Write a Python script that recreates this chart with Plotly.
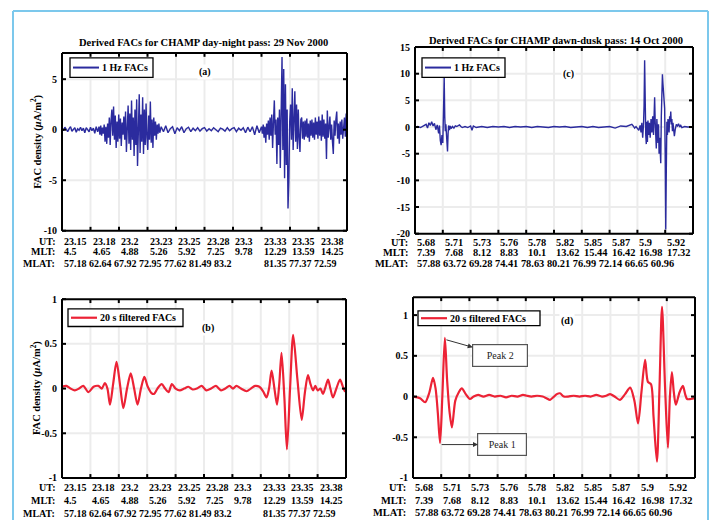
import plotly.graph_objects as go

W, H = 715, 526

# ---------------- tick-row labels (one per 100-s tick) ----------------
UT_A = ["23.15", "23.18", "23.2", "23.23", "23.25", "23.28", "23.3", "23.33", "23.35", "23.38"]
MLT_A = ["4.5", "4.65", "4.88", "5.26", "5.92", "7.25", "9.78", "12.29", "13.59", "14.25"]
MLAT_A = ["57.18", "62.64", "67.92", "72.95", "77.62", "81.49", "83.2", "81.35", "77.37", "72.59"]

UT_C = ["5.68", "5.71", "5.73", "5.76", "5.78", "5.82", "5.85", "5.87", "5.9", "5.92"]
MLT_C = ["7.39", "7.68", "8.12", "8.83", "10.1", "13.62", "15.44", "16.42", "16.98", "17.32"]
MLAT_C = ["57.88", "63.72", "69.28", "74.41", "78.63", "80.21", "76.99", "72.14", "66.65", "60.96"]

TICK_T = [0, 100, 200, 300, 400, 500, 600, 700, 800, 900, 1000]

# ---------------- 29 Nov 2000, 1 Hz FACs (time in s, FAC in uA/m^2) ----------------
T_A = [0, 5, 10, 15, 20, 25, 30, 35, 40, 45, 50, 55, 60, 65, 70, 75, 80, 85, 90, 95, 100, 105, 110, 115, 120, 125,
       130, 133, 136, 139, 142, 145, 148, 151, 154, 157, 160, 163, 166, 169, 172, 175, 178, 181, 184, 187, 190, 193,
       196, 199, 202, 205, 208, 211, 214, 217, 220, 223, 226, 229, 232, 235, 238, 241, 244, 247, 250, 253, 256, 259,
       262, 265, 268, 271, 274, 277, 280, 283, 286, 289, 292, 295, 298, 301, 304, 307, 310, 313, 316, 319, 322, 325,
       328, 331, 334, 337, 340, 343,
       348, 356, 364, 372, 380, 388, 396, 404, 412, 420, 428, 436, 444, 452, 460, 468, 476, 484, 492, 500, 508, 516,
       524, 532, 540, 548, 556, 564, 572, 580, 588, 596, 604, 612, 620, 628, 636, 644, 652, 660, 668, 676, 684, 692,
       700,
       703, 706, 709, 712, 715, 718, 721, 724, 727, 730, 733, 736, 739, 742, 745, 748, 751, 754, 757, 760, 763, 766,
       769, 772, 775, 778, 781, 784, 787, 790, 793, 796, 799, 802, 805, 808, 811, 814, 817, 820, 823, 826, 829, 832,
       835, 838, 841, 844, 847, 850, 853, 856, 859, 862, 865, 868, 871, 874, 877, 880, 883, 886, 889, 892, 895, 898,
       901, 904, 907, 910, 913, 916, 919, 922, 925, 928, 931, 934, 937, 940, 943, 946, 949, 952, 955, 958, 961, 964,
       967, 970, 973, 976, 979, 982, 985, 988, 991, 994, 997, 1000]
V_A = [0.15, -0.1, 0.25, 0.05, -0.2, 0.1, 0.3, -0.15, 0.05, 0.2, -0.25, 0.1, -0.05, 0.25, -0.1, 0.15, -0.3, 0.2, 0.0,
       -0.2, 0.25, -0.1, 0.15, -0.35, 0.3, -0.2,
       0.3, -0.5, 0.4, -0.6, 0.2, -0.4, 0.5, -1.2, 0.3, -1.4, 0.6, -0.8, 1.2, -1.5, 0.9, 2.0, -0.6, 2.3, -1.0, 1.4,
       -1.8, 0.8, -1.2, 1.5, -0.9, 1.1, -1.6, 0.7, -0.5, 1.3, -1.0, 1.8, -2.2, 0.9, 2.4, -1.4, 1.6, -2.0, 2.9, -1.0,
       1.2, -2.6, 2.0, -1.5, 3.0, -3.6, 1.0, 3.5, -2.3, 1.5, -1.2, 3.2, -2.4, 2.0, -1.5, 2.6, -0.8, -2.0, 1.4, -1.0,
       2.8, -1.3, 1.0, -1.8, 1.2, -0.6, 0.8, -1.0, 0.5, -0.4, 0.6, -0.3,
       0.3, -0.2, 0.4, -0.3, 0.1, 0.3, -0.4, 0.2, -0.1, 0.3, -0.3, 0.1, 0.25, -0.2, 0.15, -0.1, 0.2, -0.15, 0.1, 0.2,
       -0.15, 0.1, -0.1, 0.2, 0.0, -0.2, 0.15, 0.05, -0.15, 0.2, -0.1, 0.1, 0.2, -0.2, 0.15, -0.05, 0.2, -0.3, 0.25,
       -0.2, 0.3, -0.5, 0.4, -0.3, 0.3,
       -0.4, 0.5, -0.8, 0.3, -1.3, 0.6, -0.5, 0.9, -1.0, 1.2, -0.6, 1.5, -1.8, 0.8, 2.9, -0.5, 1.0, -3.4, 1.2, -1.5,
       2.0, -3.8, 3.0, 7.2, -2.0, 6.0, -4.8, 4.5, -3.5, 2.0, -7.8, -5.0, 0.8, 2.5, -1.0, 4.1, -2.0, 1.5, 3.8, -1.2,
       2.5, -1.9, 2.0, -0.8, -2.2, 1.0, 1.2, -0.9, 0.8, -1.0, 0.9, -0.7, 1.1, -0.8, 0.6, -1.2, 0.9, -0.6, 1.0, -0.8,
       0.7, -1.0, 1.2, -0.5, 0.8, -0.9, 1.3, -0.6, 0.9, -1.1, 1.5, -0.7, 1.0, -0.9, 0.6, -2.9, 1.9, -0.8, 0.7, 1.3,
       -1.0, 0.5, -1.2, -2.4, 0.9, -0.6, 1.0, 1.8, -0.9, 0.6, -1.4, 0.8, -0.5, 1.0, -0.9, 0.4, 1.2, -0.7, 1.6, -0.3]

# ---------------- 29 Nov 2000, 20 s filtered FACs ----------------
T_B = [0, 15, 30, 45, 60, 75, 93, 111, 128, 140, 151, 160, 169, 180, 192, 204, 216, 229, 242, 254, 266, 278, 290,
       302, 315, 324, 336, 351, 363, 375, 387, 400, 415, 430, 445, 460, 475, 492, 508, 525, 542, 560, 575, 590, 602,
       614, 630, 650, 665, 680, 695, 708, 720, 729, 738, 748, 757, 765, 773, 783, 792, 803, 814, 829, 844, 855, 866,
       875, 884, 892, 900, 910, 919, 928, 937, 945, 954, 966, 979, 988, 996, 1000]
V_B = [0.02, 0.03, 0.0, -0.02, 0.0, 0.03, -0.04, 0.02, 0.03, 0.0, 0.06, 0.0, -0.18, 0.05, 0.3, 0.05, -0.22, 0.0, 0.17,
       0.0, -0.18, 0.0, 0.13, 0.02, -0.05, -0.06, 0.0, 0.05, 0.0, -0.04, 0.05, 0.0, -0.02, 0.0, 0.02, -0.01, 0.0,
       0.03, -0.02, 0.0, 0.03, -0.02, 0.0, 0.03, 0.0, 0.03, 0.0, -0.03, 0.0, 0.03, 0.02, -0.03, -0.1, 0.0, 0.2, 0.0,
       -0.18, 0.05, 0.4, -0.1, -0.68, 0.0, 0.6, 0.1, -0.35, -0.05, 0.15, 0.05, -0.02, 0.03, -0.02, 0.0, -0.06, 0.02,
       0.1, 0.0, -0.1, 0.0, 0.1, 0.03, -0.03, -0.02]

# ---------------- 14 Oct 2000, 1 Hz FACs ----------------
T_C = [0, 10, 20, 30, 40, 45, 50, 55, 60, 65, 70, 75, 80, 85, 88, 91, 94, 97, 100, 103, 105, 107, 109, 111, 113, 115,
       117, 119, 121, 124, 127, 130, 135, 140, 145, 150, 155, 160, 165, 170, 180, 190, 200, 205, 210, 220, 240, 260,
       280, 300, 320, 340, 360, 380, 400, 420, 440, 460, 480, 500, 520, 540, 560, 580, 600, 620, 640, 660, 680, 700,
       720, 740, 760, 770, 780, 785, 790, 795, 800, 805, 810, 813, 816, 819, 822, 824, 826, 828, 830, 832, 834, 836,
       838, 840, 843, 846, 849, 852, 855, 858, 860, 862, 864, 866, 868, 870, 872, 874, 876, 878, 880, 882, 884, 886,
       888, 890, 892, 894, 896, 898, 900, 902, 904, 906, 908, 910, 912, 914, 916, 918, 920, 922, 924, 926, 928, 930,
       933, 936, 940, 944, 948, 952, 956, 960, 970, 980, 990, 1000]
V_C = [0.0, 0.1, -0.1, 0.2, 0.5, -0.2, 0.8, 0.3, 1.0, 0.2, 0.7, -0.5, 0.4, -1.2, 0.3, -2.5, -3.4, -1.5, -3.0, 4.0,
       9.3, 2.0, -0.8, 0.5, -2.0, -3.5, -4.6, -1.2, 0.3, -0.6, 0.2, -0.3, 0.1, -0.2, 0.2, 0.1, 0.3, 0.4, 0.1, -0.1,
       0.1, -0.1, 0.2, -0.6, 0.2, -0.1, 0.1, -0.1, 0.1, 0.0, 0.1, -0.1, 0.1, 0.0, 0.1, -0.1, 0.1, 0.0, -0.1, 0.1, 0.0,
       0.1, -0.1, 0.0, 0.1, -0.1, 0.1, -0.1, 0.0, 0.1, -0.2, 0.2, 0.1, 0.3, 0.5, 0.2, -0.2, 0.1, -0.4, -0.6, 0.3,
       -1.0, 0.8, -2.0, 0.5, 4.0, 12.5, 3.0, -1.5, -3.2, 1.0, -2.8, 1.2, -1.5, 0.8, -2.0, 1.5, -1.0, 2.0, -1.5, 3.0,
       5.6, 1.0, -2.5, -4.0, 1.5, -1.5, -3.0, 0.5, -5.0, -2.0, -4.5, -6.8, 2.0, 6.0, 9.9, 8.0, 6.5, 5.0, 3.5, -5.0,
       -19.2, -8.0, 1.0, -1.5, 1.5, 0.5, -1.0, 2.0, 1.0, 2.9, 0.5, 1.5, -0.8, 0.8, -1.2, -1.7, -0.5, 0.5, 0.2, 0.6,
       0.0, 0.3, -0.1, 0.1, 0.0, 0.0, 0.0]

# ---------------- 14 Oct 2000, 20 s filtered FACs ----------------
T_D = [0, 25, 43, 58, 71, 80, 88, 96, 104, 113, 121, 130, 138, 150, 162, 173, 187, 202, 215, 231, 250, 270, 290, 310,
       330, 350, 370, 390, 403, 420, 440, 460, 473, 486, 500, 510, 521, 535, 550, 570, 590, 610, 630, 650, 670, 685,
       699, 715, 734, 752, 770, 785, 798, 810, 823, 833, 844, 853, 865, 874, 883, 894, 904, 911, 918, 925, 932, 945,
       957, 965, 972, 985, 1000]
V_D = [0.0, -0.02, -0.07, 0.05, 0.23, 0.1, -0.2, -0.57, 0.0, 0.72, 0.2, -0.2, -0.38, -0.05, 0.05, 0.1, 0.03, -0.03,
       0.0, 0.02, 0.0, 0.02, 0.0, 0.01, -0.01, 0.01, 0.0, 0.02, 0.01, 0.0, 0.01, 0.0, -0.02, -0.04, 0.0, 0.03, 0.04,
       0.0, 0.0, 0.01, 0.0, 0.01, 0.0, 0.02, 0.0, 0.01, 0.03, 0.0, -0.04, 0.03, 0.11, -0.05, -0.33, 0.05, 0.45, 0.18,
       0.15, -0.25, -0.8, 0.1, 1.1, 0.1, -0.63, 0.0, 0.3, 0.05, -0.1, 0.05, 0.13, 0.03, -0.03, -0.03, -0.02]

BLUE = "#2b2b9e"
RED = "#ec2235"
SERIF = "Liberation Serif"
GRID = "#ececec"


def px(x):
    return x / W


def py(y):
    return 1 - y / H


def b(s):
    return f"<b>{s}</b>"


# panel boxes in pixels: (left, right, top, bottom)
BOX = {
    "a": (62, 347, 48, 230),
    "b": (62, 346, 300, 483),
    "c": (415, 693, 42, 233),
    "d": (413, 695, 298, 483),
}
AX = {"a": ("x", "y"), "b": ("x2", "y2"), "c": ("x3", "y3"), "d": ("x4", "y4")}
XR = [0, 1000]
YR = {"a": ([-10, 7.6], [-10, -5, 0, 5]),
      "b": ([-1, 1], [-1, -0.5, 0, 0.5, 1]),
      "c": ([-20, 15], [-20, -15, -10, -5, 0, 5, 10, 15]),
      "d": ([-1, 1.22], [-1, -0.5, 0, 0.5, 1])}

SERIES = {
    "a": (T_A, V_A, "1 Hz FACs", BLUE, 1.4, "linear"),
    "b": (T_B, V_B, "20 s filtered FACs", RED, 2.2, "spline"),
    "c": (T_C, V_C, "1 Hz FACs", BLUE, 1.4, "linear"),
    "d": (T_D, V_D, "20 s filtered FACs", RED, 2.2, "spline"),
}

fig = go.Figure()
for k, (tt, vv, name, col, lw, shp) in SERIES.items():
    xa, ya = AX[k]
    fig.add_trace(go.Scatter(x=tt, y=vv, mode="lines", name=name, showlegend=False,
                             line=dict(color=col, width=lw, shape=shp, smoothing=0.8),
                             xaxis=xa, yaxis=ya))

layout_axes = {}
shapes = []
for k, (l, r, t, bt) in BOX.items():
    xa, ya = AX[k]
    rng, vals = YR[k]
    layout_axes["xaxis" + xa[1:]] = dict(domain=[px(l), px(r)], range=XR, showticklabels=False, ticks="",
                                         showline=False, showgrid=False, zeroline=False, anchor=ya)
    layout_axes["yaxis" + ya[1:]] = dict(domain=[py(bt), py(t)], range=rng, tickmode="array", tickvals=vals,
                                         ticktext=[b(f"{v:g}") for v in vals], ticks="", showline=False,
                                         showgrid=False, zeroline=False, anchor=xa, ticklabelstandoff=4,
                                         tickfont=dict(family=SERIF, size=10, color="black"))

    # axis frame, inward ticks and light grid, placed with the same domain/range as the axes
    def xpix(tv, l=l, r=r):
        return l + (tv - XR[0]) / (XR[1] - XR[0]) * (r - l)

    def ypix(v, t=t, bt=bt, rng=rng):
        return bt - (v - rng[0]) / (rng[1] - rng[0]) * (bt - t)

    def seg(x0, x1, y0, y1, color, width, layer="above"):
        shapes.append(dict(type="line", xref="paper", yref="paper", x0=px(x0), x1=px(x1), y0=py(y0), y1=py(y1),
                           layer=layer, line=dict(color=color, width=width)))

    for tv in TICK_T:
        xx = xpix(tv)
        if XR[0] < tv < XR[1]:
            seg(xx, xx, bt, t, GRID, 2, "below")
        seg(xx, xx, bt, bt - 4, "black", 2)
        seg(xx, xx, t, t + 4, "black", 2)
    for v in vals:
        yy = ypix(v)
        if rng[0] < v < rng[1]:
            seg(l, r, yy, yy, GRID, 2, "below")
        seg(l, l + 4, yy, yy, "black", 2)
        seg(r - 4, r, yy, yy, "black", 2)
    for x0, x1, y0, y1 in ((l, r, t, t), (l, r, bt, bt), (l, l, t, bt), (r, r, t, bt)):
        seg(x0, x1, y0, y1, "black", 2)

fig.update_layout(width=W, height=H, margin=dict(l=0, r=0, t=0, b=0),
                  paper_bgcolor="white", plot_bgcolor="rgba(0,0,0,0)", showlegend=False, **layout_axes)

ann = []


def note(text, x, y, size=10, **kw):
    d = dict(text=text, x=x, y=y, xref="paper", yref="paper", showarrow=False, xanchor="center",
             yanchor="middle", font=dict(family=SERIF, size=size, color="black"))
    d.update(kw)
    ann.append(d)


# legend boxes: (left, right, top, bottom) in pixels
LEG = {"a": (70, 153, 53, 73), "b": (68, 183, 310, 328), "c": (422, 505, 53, 73), "d": (418, 540, 312, 327)}
for k, (l, r, t, bt) in LEG.items():
    name, col, lw = SERIES[k][2], SERIES[k][3], SERIES[k][4]
    ym = (t + bt) / 2
    shapes.append(dict(type="rect", xref="paper", yref="paper", x0=px(l), x1=px(r), y0=py(bt), y1=py(t),
                       fillcolor="white", line=dict(color="black", width=1.3)))
    shapes.append(dict(type="line", xref="paper", yref="paper", x0=px(l + 3), x1=px(l + 29), y0=py(ym), y1=py(ym),
                       line=dict(color=col, width=max(lw, 2))))
    note(b(name), px(l + 30), py(ym), xanchor="left")

# titles
note(b("Derived FACs for CHAMP day-night pass: 29 Nov 2000"), px(204), py(37), size=10.5)
note(b("Derived FACs for CHAMP dawn-dusk pass: 14 Oct 2000"), px(556), py(35), size=10.5)

# y-axis titles
for yc in (139, 391):
    note(b("FAC density (<i>\u03bc</i>A/m<sup>2</sup>)"), px(36), py(yc), size=10.5, textangle=-90)

# panel tags
for tag, (x0, y0) in {"(a)": (205, 68), "(b)": (208, 330), "(c)": (568, 70), "(d)": (567, 322)}.items():
    note(b(tag), px(x0), py(y0), bgcolor="white")


def tick_rows(xref, left, rows_y, ut, mlt, mlat, split, size):
    ut_y, mlt_y, mlat_y = rows_y
    for lab, yy in (("UT:", ut_y), ("MLT:", mlt_y), ("MLAT:", mlat_y)):
        note(b(lab), px(left - 5), py(yy), xanchor="right", size=size)
    for t, u, m in zip(TICK_T, ut, mlt):
        note(b(u), t, py(ut_y), xref=xref, xanchor="left", size=size)
        note(b(m), t, py(mlt_y), xref=xref, xanchor="left", size=size)
    if split:
        groups = [(TICK_T[0], mlat[:7]), (TICK_T[7], mlat[7:])]
    else:
        groups = [(TICK_T[0], mlat)]
    for t, items in groups:
        note(b(" ".join(items)), t, py(mlat_y), xref=xref, xanchor="left", size=size)


tick_rows("x", 62, (241, 251, 264), UT_A, MLT_A, MLAT_A, True, 10)
tick_rows("x2", 62, (493, 506, 519), UT_A, MLT_A, MLAT_A, True, 10)
tick_rows("x3", 415, (242, 252, 263), UT_C, MLT_C, MLAT_C, False, 10.4)
tick_rows("x4", 413, (493, 506, 518), UT_C, MLT_C, MLAT_C, False, 10.4)

# peak call-outs on the filtered dawn-dusk pass: the arrow runs from the peak to its label box
first = [i for i, t in enumerate(T_D) if t < 200]
i_max = max(first, key=lambda i: V_D[i])
i_min = min(first, key=lambda i: V_D[i])
callout = dict(xref="x4", yref="y4", axref="x4", ayref="y4", showarrow=True, arrowside="start",
               startarrowhead=2, startarrowsize=1, arrowwidth=1, arrowcolor="#333333",
               standoff=1, startstandoff=0, height=15, bordercolor="#555555", borderwidth=1.2,
               borderpad=3, bgcolor="white", font=dict(family=SERIF, size=10, color="#222222"))
ann.append(callout | dict(text="Peak 2", x=T_D[i_max] + 2, y=V_D[i_max] - 0.02, ax=309, ay=0.51, width=48))
ann.append(callout | dict(text="Peak 1", x=T_D[i_min] + 2, y=V_D[i_min] - 0.02, ax=317, ay=-0.59, width=42))

# light-blue page frame
frame = dict(type="line", xref="paper", yref="paper", line=dict(color="#7cc8ec", width=2))
shapes += [
    frame | dict(x0=px(13), x1=px(13), y0=0, y1=py(5)),
    frame | dict(x0=px(13), x1=px(708), y0=py(5), y1=py(5)),
    frame | dict(x0=px(708), x1=px(708), y0=py(5), y1=0),
]

fig.update_layout(annotations=ann, shapes=shapes)
fig.write_html("out.html")
